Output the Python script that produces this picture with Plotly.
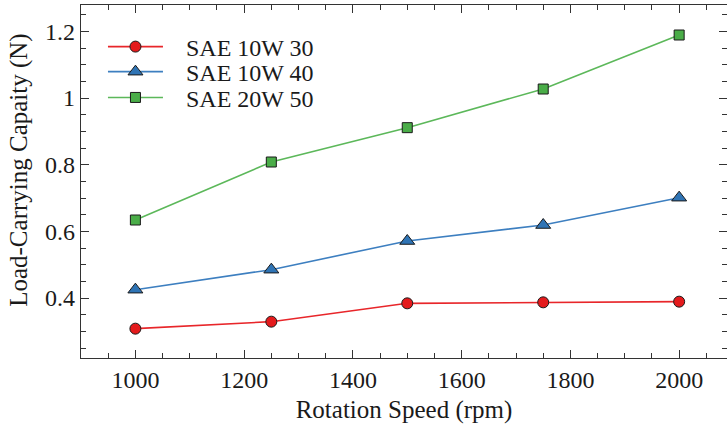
import plotly.graph_objects as go

speed_rpm = [1000, 1250, 1500, 1750, 2000]
sae_10w30 = [0.308, 0.329, 0.384, 0.387, 0.389]
sae_10w40 = [0.425, 0.485, 0.571, 0.619, 0.701]
sae_20w50 = [0.634, 0.808, 0.911, 1.027, 1.189]

series_names = ["SAE 10W 30", "SAE 10W 40", "SAE 20W 50"]
y_ticks = [0.4, 0.6, 0.8, 1.0, 1.2]
y_tick_text = ["0.4", "0.6", "0.8", "1", "1.2"]
x_ticks = [1000, 1200, 1400, 1600, 1800, 2000]

FONT = "Liberation Serif"
FS = 24
TITLE_FS = 25
PAD = "\u00a0\u00a0\u00a0"  # extra gap between legend symbol and label

styles = [
    dict(line="#e8262a", fill="#e41a1c", symbol="circle", size=11),
    dict(line="#3d7fc0", fill="#2f74b5", symbol="triangle-up", size=13),
    dict(line="#5cb85a", fill="#4aad48", symbol="square", size=10),
]
legend_ids = ["legend", "legend2", "legend3"]
legend_rows = [0.881, 0.810, 0.737]  # paper y of each legend row

fig = go.Figure()
for name, ys, st, lid in zip(series_names, [sae_10w30, sae_10w40, sae_20w50], styles, legend_ids):
    fig.add_trace(go.Scatter(
        x=speed_rpm, y=ys, name=PAD + name, mode="lines+markers", legend=lid,
        line=dict(color=st["line"], width=1.6),
        marker=dict(symbol=st["symbol"], size=st["size"], color=st["fill"],
                    line=dict(color="#1a1a1a", width=1)),
    ))

axis_common = dict(
    showline=True, linecolor="#333333", linewidth=1.2, mirror="ticks",
    ticks="inside", ticklen=8, tickwidth=1.2, tickcolor="#333333",
    showgrid=False, zeroline=False,
    tickfont=dict(family=FONT, size=FS, color="#1a1a1a"),
)

fig.update_xaxes(
    range=[900, 2088], tickvals=x_ticks,
    minor=dict(ticks="inside", ticklen=5, dtick=50, tickcolor="#333333", tickwidth=1),
    title=dict(text="Rotation Speed (rpm)", font=dict(family=FONT, size=TITLE_FS, color="#1a1a1a"), standoff=8),
    **axis_common,
)
fig.update_yaxes(
    range=[0.22, 1.279], tickvals=y_ticks, ticktext=y_tick_text,
    minor=dict(ticks="inside", ticklen=5, dtick=0.05, tickcolor="#333333", tickwidth=1),
    **axis_common,
)

# y-axis title, placed slightly above the plot's vertical centre
fig.add_annotation(
    text="Load-Carrying Capaity (N)", textangle=-90,
    xref="paper", yref="paper", x=-0.096, y=0.533,
    xanchor="center", yanchor="middle", showarrow=False,
    font=dict(family=FONT, size=TITLE_FS, color="#1a1a1a"),
)

legend_style = dict(
    x=0.034, xanchor="left", yanchor="middle",
    bgcolor="rgba(0,0,0,0)", itemwidth=55,
    font=dict(family=FONT, size=FS, color="#1a1a1a"),
)

fig.update_layout(
    width=727, height=430,
    margin=dict(l=81, r=0, t=5, b=72),
    paper_bgcolor="white", plot_bgcolor="white",
    showlegend=True,
    **{lid: dict(y=yr, **legend_style) for lid, yr in zip(legend_ids, legend_rows)},
)

fig.write_html("out.html")
